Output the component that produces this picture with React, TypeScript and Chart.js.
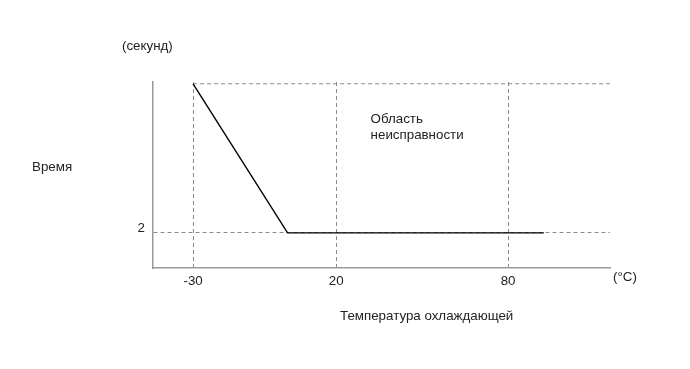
import React, { useEffect, useRef } from "react";
import { Chart, registerables } from "chart.js";

Chart.register(...registerables);

const xTicks = [-30, 20, 80];
const yTicks = [2];
const curveX = [-30, 3, 92.5];
const curveY = [10.5, 2, 2];
const limitY = 10.5;
const xMin = -44;
const xMax = 115.6;
const yMin = 0;
const yMax = 10.6;

const FONT = "'Liberation Sans', Arial, sans-serif";
const FS = 13.33;
const TEXT = "#222";
const GRID = "#8a8a8a";

const textPlugin = {
  id: "textLabels",
  afterDraw(chart: any) {
    const ctx = chart.ctx;
    const xs = chart.scales.x;
    const ys = chart.scales.y;
    ctx.save();
    ctx.fillStyle = TEXT;
    ctx.font = `${FS}px ${FONT}`;
    ctx.textBaseline = "middle";
    ctx.textAlign = "left";
    ctx.fillText("(секунд)", 122, 46);
    ctx.fillText("Время", 32, 167);
    ctx.fillText("(°C)", xs.right + 3, 277);
    ctx.fillText("Температура охлаждающей", 340, 316);
    ctx.fillText("Область", xs.getPixelForValue(32), ys.getPixelForValue(8.45));
    ctx.fillText("неисправности", xs.getPixelForValue(32), ys.getPixelForValue(7.55));
    ctx.restore();
  },
};

export default function App() {
  const ref = useRef<HTMLCanvasElement | null>(null);
  useEffect(() => {
    if (!ref.current) return;
    const chart = new Chart(ref.current, {
      type: "line",
      data: {
        datasets: [
          {
            data: curveX.map((x, i) => ({ x, y: curveY[i] })),
            borderColor: "#000",
            borderWidth: 1.4,
            pointRadius: 0,
            tension: 0,
          },
          {
            data: [
              { x: xTicks[0], y: limitY },
              { x: xMax, y: limitY },
            ],
            borderColor: GRID,
            borderWidth: 1,
            borderDash: [4, 3],
            pointRadius: 0,
            clip: false as any,
          },
        ],
      },
      options: {
        responsive: false,
        animation: false,
        layout: { padding: { left: 0, top: 82, right: 80, bottom: 0 } },
        plugins: { legend: { display: false }, tooltip: { enabled: false } },
        scales: {
          x: {
            type: "linear",
            min: xMin,
            max: xMax,
            afterBuildTicks: (s: any) => {
              s.ticks = xTicks.map((v) => ({ value: v }));
            },
            afterFit: (s: any) => {
              s.height = 101;
            },
            grid: { color: GRID, lineWidth: 1, drawTicks: false },
            border: { color: "#999", width: 1.5, dash: [4, 3] },
            ticks: {
              padding: 5,
              color: TEXT,
              font: { family: FONT, size: FS },
              maxRotation: 0,
              callback: (v: any) => String(v),
            },
          },
          y: {
            type: "linear",
            min: yMin,
            max: yMax,
            afterBuildTicks: (s: any) => {
              s.ticks = yTicks.map((v) => ({ value: v }));
            },
            afterFit: (s: any) => {
              s.width = 153;
            },
            grid: { color: GRID, lineWidth: 1, drawTicks: false },
            border: { color: "#999", width: 1.5, dash: [4, 3] },
            ticks: {
              padding: 8,
              color: TEXT,
              labelOffset: -5,
              font: { family: FONT, size: FS },
              callback: (v: any) => String(v),
            },
          },
        },
      },
      plugins: [textPlugin],
    });
    return () => chart.destroy();
  }, []);
  return (
    <div style={{ position: "fixed", left: 0, top: 0, width: 690, height: 369, background: "#fff" }}>
      <canvas ref={ref} width={690} height={369} style={{ width: 690, height: 369 }} />
    </div>
  );
}
